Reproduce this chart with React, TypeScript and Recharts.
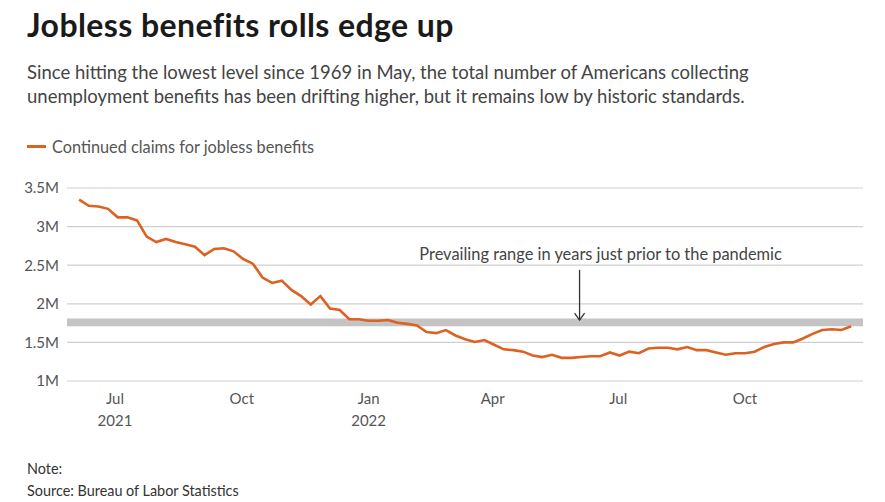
import React from "react";
import {
  LineChart,
  Line,
  XAxis,
  YAxis,
  CartesianGrid,
  ReferenceArea,
  ReferenceLine,
  Legend,
} from "recharts";

const DAY = 24 * 60 * 60 * 1000;

// first week-ending date of the series (Saturday)
const firstWeek = Date.UTC(2021, 5, 5);

// continued claims, millions, weekly
const claims = [
  3.35, 3.27, 3.26, 3.23, 3.12, 3.12, 3.08, 2.87, 2.8, 2.84, 2.8, 2.77, 2.74,
  2.63, 2.71, 2.72, 2.68, 2.58, 2.52, 2.34, 2.27, 2.3, 2.18, 2.1, 1.99, 2.1,
  1.94, 1.92, 1.8, 1.8, 1.78, 1.78, 1.79, 1.755, 1.74, 1.72, 1.635, 1.62, 1.66,
  1.59, 1.54, 1.505, 1.53, 1.47, 1.41, 1.4, 1.38, 1.33, 1.31, 1.34, 1.3, 1.3,
  1.31, 1.32, 1.32, 1.37, 1.33, 1.38, 1.36, 1.42, 1.43, 1.43, 1.41, 1.44, 1.4,
  1.4, 1.37, 1.34, 1.36, 1.36, 1.38, 1.44, 1.48, 1.5, 1.5, 1.55, 1.61, 1.66,
  1.67, 1.66, 1.71,
];

const yTicks = [1, 1.5, 2, 2.5, 3, 3.5];
const xTicks = [
  Date.UTC(2021, 6, 1),
  Date.UTC(2021, 9, 1),
  Date.UTC(2022, 0, 1),
  Date.UTC(2022, 3, 1),
  Date.UTC(2022, 6, 1),
  Date.UTC(2022, 9, 1),
];
const xDomain = [Date.UTC(2021, 4, 27, 5), Date.UTC(2022, 11, 25, 14)];
const monthNames = ["Jan", "Feb", "Mar", "Apr", "May", "Jun", "Jul", "Aug", "Sep", "Oct", "Nov", "Dec"];

// pre-pandemic range band and its annotation
const prePandemicBand = [1.71, 1.81];
const arrowDate = Date.UTC(2022, 5, 3);
const arrowFrom = 2.44;
const arrowTo = 1.79;
const annotation = "Prevailing range in years just prior to the pandemic";

const data = claims.map((v, i) => ({ date: firstWeek + i * 7 * DAY, claims: v }));

const FONT = "Lato, 'Noto Sans', sans-serif";
const ORANGE = "#dc6221";

const MonthTick = ({ x, y, payload }: any) => {
  const d = new Date(payload.value);
  const showYear = d.getUTCMonth() === 0 || payload.value === xTicks[0];
  return (
    <g>
      <text x={x} y={y} dy={15} textAnchor="middle" fill="#555" fontSize={15} fontFamily={FONT}>
        {monthNames[d.getUTCMonth()]}
      </text>
      {showYear && (
        <text x={x} y={y} dy={37} textAnchor="middle" fill="#555" fontSize={15} fontFamily={FONT}>
          {d.getUTCFullYear()}
        </text>
      )}
    </g>
  );
};

const ArrowShape = (props: any) => {
  const { x1, y1, x2, y2 } = props;
  return (
    <g>
      <text x={x1 + 21} y={y1 - 10} textAnchor="middle" fill="#444" fontSize={16.4} fontFamily={FONT}>
        {annotation}
      </text>
      <line x1={x1} y1={y1} x2={x2} y2={y2} stroke="#333" strokeWidth={1.3} />
      <path d={`M${x2 - 5},${y2 - 7} L${x2},${y2} L${x2 + 5},${y2 - 7}`} fill="none" stroke="#333" strokeWidth={1.3} />
    </g>
  );
};

const LegendContent = () => (
  <div style={{ display: "flex", alignItems: "center", fontFamily: FONT, fontSize: 16.3, color: "#555" }}>
    <span style={{ display: "inline-block", width: 19, height: 3, background: ORANGE, marginRight: 6 }} />
    Continued claims for jobless benefits
  </div>
);

export default function App() {
  return (
    <div style={{ position: "absolute", left: 0, top: 0, width: 885, height: 502, background: "#fff", fontFamily: FONT }}>
      <div style={{ position: "absolute", left: 27, top: 5, fontSize: 32, fontWeight: 700, color: "#1a1a1a", lineHeight: "40px", letterSpacing: 0.4 }}>
        Jobless benefits rolls edge up
      </div>
      <div style={{ position: "absolute", left: 27, top: 60, fontSize: 18.5, color: "#444", lineHeight: "24px" }}>
        Since hitting the lowest level since 1969 in May, the total number of Americans collecting
        <br />
        unemployment benefits has been drifting higher, but it remains low by historic standards.
      </div>
      <div style={{ position: "absolute", left: 27, top: 458, fontSize: 14.4, color: "#333", lineHeight: "22px" }}>
        Note:
        <br />
        Source: Bureau of Labor Statistics
      </div>
      <LineChart
        width={885}
        height={502}
        data={data}
        margin={{ top: 169, right: 22, bottom: 71, left: 17 }}
        style={{ position: "absolute", left: 0, top: 0 }}
      >
        <CartesianGrid vertical={false} stroke="#cfcfcf" strokeWidth={1.2} />
        <ReferenceArea
          y1={prePandemicBand[0]}
          y2={prePandemicBand[1]}
          fill="#c4c4c4"
          fillOpacity={1}
          stroke="none"
          ifOverflow="extendDomain"
        />
        <XAxis
          dataKey="date"
          type="number"
          scale="time"
          domain={xDomain}
          ticks={xTicks}
          axisLine={false}
          tickLine={false}
          height={50}
          tick={<MonthTick />}
          allowDataOverflow
        />
        <YAxis
          type="number"
          domain={[1, 3.5]}
          ticks={yTicks}
          axisLine={false}
          tickLine={false}
          width={50}
          tick={{ fill: "#555", fontSize: 15, fontFamily: FONT }}
          tickFormatter={(v) => `${v}M`}
        />
        <Legend
          verticalAlign="top"
          align="left"
          content={<LegendContent />}
          wrapperStyle={{ position: "absolute", left: 27, top: 137, width: "auto" }}
        />
        <ReferenceLine
          segment={[
            { x: arrowDate, y: arrowFrom },
            { x: arrowDate, y: arrowTo },
          ]}
          shape={<ArrowShape />}
        />
        <Line
          type="linear"
          dataKey="claims"
          stroke={ORANGE}
          strokeWidth={2.6}
          dot={false}
          isAnimationActive={false}
        />
      </LineChart>
    </div>
  );
}
